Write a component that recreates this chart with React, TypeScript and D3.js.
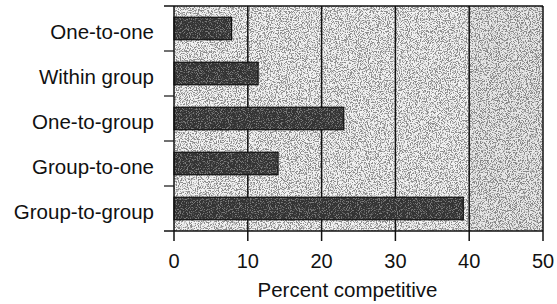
import * as d3 from 'd3';

const categories = ['One-to-one', 'Within group', 'One-to-group', 'Group-to-one', 'Group-to-group'];
const values = [7.8, 11.4, 23, 14.1, 39.2];
const xTicks = [0, 10, 20, 30, 40, 50];
const xTitle = 'Percent competitive';

const App = () => {
  const width = 557;
  const height = 304;
  const margin = { top: 6, right: 14, bottom: 73, left: 174 };
  const innerW = width - margin.left - margin.right;
  const innerH = height - margin.top - margin.bottom;

  const x = d3.scaleLinear().domain([0, 50]).range([0, innerW]);
  const y = d3.scaleBand().domain(categories).range([0, innerH]).paddingInner(0.5).paddingOuter(0.25);
  const band = d3.scaleBand().domain(categories).range([0, innerH]);

  const font = '"Liberation Sans", Arial, sans-serif';

  return (
    <svg width={width} height={height} style={{ position: 'absolute', left: 0, top: 0 }}>
      <defs>
        <filter id="dots" x="0" y="0" width="100%" height="100%" filterUnits="objectBoundingBox">
          <feTurbulence type="fractalNoise" baseFrequency="0.9" numOctaves="2" seed="4" />
          <feColorMatrix type="matrix" values="0 0 0 0 0  0 0 0 0 0  0 0 0 0 0  7 0 0 0 -3.3" />
        </filter>
        <filter id="dotsLight" x="0" y="0" width="100%" height="100%" filterUnits="objectBoundingBox">
          <feTurbulence type="fractalNoise" baseFrequency="0.9" numOctaves="2" seed="9" />
          <feColorMatrix type="matrix" values="0 0 0 0 1  0 0 0 0 1  0 0 0 0 1  7 0 0 0 -3.6" />
        </filter>
      </defs>
      <rect width={width} height={height} fill="#fff" />
      <g transform={`translate(${margin.left},${margin.top})`}>
        {/* stippled plot background */}
        <rect width={innerW} height={innerH} fill="#f2f2f2" />
        <rect width={innerW} height={innerH} filter="url(#dots)" opacity={0.42} />
        <rect x={x(40)} width={innerW - x(40)} height={innerH} fill="#000" opacity={0.04} />

        {/* gridlines */}
        {xTicks.slice(1, -1).map((t) => (
          <line key={t} x1={x(t)} x2={x(t)} y1={0} y2={innerH + 10} stroke="#111" strokeWidth={1.5} />
        ))}

        {/* bars */}
        {categories.map((c, i) => (
          <g key={c}>
            <rect x={0} y={y(c)} width={x(values[i])} height={y.bandwidth()} fill="#333" />
            <rect x={0} y={y(c)} width={x(values[i])} height={y.bandwidth()} filter="url(#dotsLight)" opacity={0.35} />
            <rect x={0} y={y(c)} width={x(values[i])} height={y.bandwidth()} fill="none" stroke="#111" strokeWidth={1.2} />
          </g>
        ))}

        {/* frame */}
        <line x1={-10} x2={innerW} y1={0} y2={0} stroke="#111" strokeWidth={1.5} />
        <line x1={innerW} x2={innerW} y1={0} y2={innerH + 10} stroke="#111" strokeWidth={1.5} />
        <line x1={-10} x2={innerW} y1={innerH} y2={innerH} stroke="#111" strokeWidth={1.5} />
        <line x1={0} x2={0} y1={0} y2={innerH + 10} stroke="#111" strokeWidth={1.5} />

        {/* category boundary ticks */}
        {categories.slice(1).map((c) => (
          <line key={c} x1={-10} x2={0} y1={band(c)} y2={band(c)} stroke="#111" strokeWidth={1.2} />
        ))}

        {/* category labels */}
        {categories.map((c) => (
          <text key={c} x={-20} y={y(c)! + y.bandwidth() / 2 + 10} textAnchor="end"
            fontFamily={font} fontSize={20.5} fill="#111">
            {c}
          </text>
        ))}

        {/* x tick labels */}
        {xTicks.map((t) => (
          <text key={t} x={x(t)} y={innerH + 37} textAnchor="middle" fontFamily={font} fontSize={20} fill="#111">
            {t}
          </text>
        ))}

        <text x={innerW / 2 - 11} y={innerH + 66} textAnchor="middle" fontFamily={font} fontSize={20.5} fill="#111">
          {xTitle}
        </text>
      </g>
    </svg>
  );
};

export default App;
